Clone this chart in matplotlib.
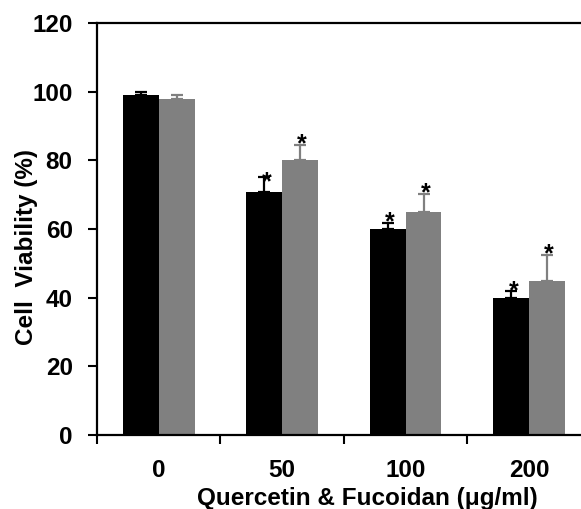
import matplotlib
matplotlib.use("Agg")
import matplotlib.pyplot as plt
import numpy as np

plt.rcParams['font.family'] = ['Liberation Sans', 'DejaVu Sans']
plt.rcParams['font.weight'] = 'bold'

# data
doses = ['0', '50', '100', '200']
quercetin = [99.1, 70.9, 60.1, 40.0]
quercetin_err = [0.8, 4.2, 1.7, 1.9]
fucoidan = [97.9, 80.0, 64.9, 45.0]
fucoidan_err = [1.0, 4.4, 5.2, 7.3]
sig_q = [False, True, True, True]
sig_f = [False, True, True, True]

fig = plt.figure(figsize=(5.81, 5.09), dpi=100)
ax = fig.add_axes([97/581, 74/509, 484/581, 412/509])

x = np.arange(len(doses))
w = 0.29
gray = '#808080'
ax.bar(x - w/2, quercetin, w, color='black',
       yerr=[np.zeros(4), quercetin_err], ecolor='black',
       error_kw=dict(elinewidth=1.6, capsize=4.5, capthick=1.6))
ax.bar(x + w/2, fucoidan, w, color=gray,
       yerr=[np.zeros(4), fucoidan_err], ecolor=gray,
       error_kw=dict(elinewidth=1.6, capsize=4.5, capthick=1.6))

# significance stars (the one on the 50 black bar sits on its cap)
for i in range(len(doses)):
    if sig_q[i]:
        dy = -9 if i == 1 else -5
        ax.annotate('*', (x[i] - w/2, quercetin[i] + quercetin_err[i]),
                    xytext=(1.5, dy), textcoords='offset points',
                    ha='center', va='baseline', fontsize=18, fontweight='bold')
    if sig_f[i]:
        ax.annotate('*', (x[i] + w/2, fucoidan[i] + fucoidan_err[i]),
                    xytext=(1.5, -4.5), textcoords='offset points',
                    ha='center', va='baseline', fontsize=18, fontweight='bold')

ax.set_ylim(0, 120)
ax.set_yticks(range(0, 121, 20))
ax.set_xlim(-0.5, 3.42)
ax.set_xticks(x)
ax.set_xticklabels(doses)
# group boundary ticks
ax.set_xticks([-0.5, 0.5, 1.5, 2.5], minor=True)
ax.tick_params(axis='x', which='major', length=0, pad=17, labelsize=17.5)
ax.tick_params(axis='x', which='minor', length=6.5, width=1.5, direction='out')
ax.tick_params(axis='y', length=6.5, width=1.5, direction='out', pad=11, labelsize=17.5)

ax.spines['right'].set_visible(False)
for s in ['left', 'bottom', 'top']:
    ax.spines[s].set_linewidth(1.6)

ax.set_xlabel('Quercetin & Fucoidan (μg/ml)', fontsize=17.5, fontweight='bold')
ax.xaxis.set_label_coords(0.558, -0.125)
ax.set_ylabel('Cell  Viability (%)', fontsize=17.5, fontweight='bold')
ax.yaxis.set_label_coords(-0.145, 0.456)
ax.yaxis.label.set_va('center')

fig.savefig('out.png', dpi=100)
